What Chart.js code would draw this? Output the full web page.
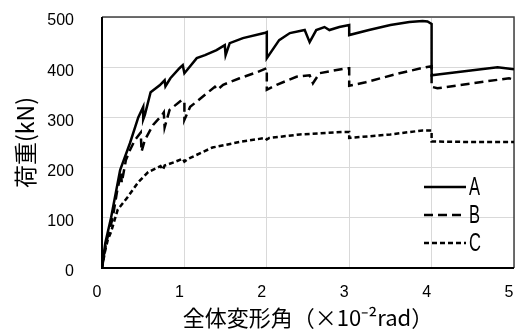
<!DOCTYPE html>
<html>
<head>
<meta charset="utf-8">
<script src="https://cdn.jsdelivr.net/npm/chart.js@4/dist/chart.umd.min.js"></script>
<style>
  html, body { margin: 0; padding: 0; background: #fff; }
  #wrap { width: 518px; height: 332px; }
</style>
</head>
<body>
<div id="wrap"><canvas id="chart" width="518" height="332"></canvas></div>
<script>
// ======================
// Data
// ======================
const seriesNames = ["A", "B", "C"];
const xTicks = [0, 1, 2, 3, 4, 5];
const yTicks = [0, 100, 200, 300, 400, 500];

// A: solid
const aX = [0, 0.04, 0.11, 0.22, 0.34, 0.44, 0.5, 0.5, 0.52, 0.59, 0.7, 0.76, 0.77, 0.83, 0.94, 0.98, 1.0, 1.03,
  1.15, 1.25, 1.39, 1.49, 1.5, 1.55, 1.71, 1.97, 2.0, 2.0, 2.15, 2.28, 2.46, 2.52, 2.6, 2.7, 2.76, 2.88, 3.0, 3.0,
  3.24, 3.5, 3.73, 3.89, 3.95, 4.0, 4.0, 4.1, 4.5, 4.8, 5.0];
const aY = [0, 50, 100, 195, 249, 300, 321, 296, 305, 350, 364, 374, 362, 378, 398, 404, 388, 394,
  418, 424, 434, 444, 424, 448, 458, 468, 470, 418, 454, 468, 474, 450, 474, 480, 474, 480, 484, 464,
  474, 484, 490, 492, 491, 486, 384, 386, 394, 400, 396];

// B: dashed
const bX = [0, 0.05, 0.13, 0.18, 0.23, 0.24, 0.29, 0.34, 0.4, 0.47, 0.48, 0.52, 0.62, 0.73, 0.75, 0.76, 0.82, 0.97,
  1.0, 1.0, 1.07, 1.25, 1.37, 1.4, 1.47, 1.67, 1.88, 2.0, 2.0, 2.12, 2.36, 2.52, 2.56, 2.64, 2.97, 3.0, 3.0,
  3.2, 3.61, 3.93, 4.0, 4.0, 4.07, 4.5, 4.94, 5.0];
const bY = [0, 50, 100, 150, 190, 170, 215, 235, 255, 270, 232, 255, 285, 305, 310, 280, 315, 335,
  331, 295, 321, 345, 361, 355, 365, 378, 390, 398, 355, 365, 381, 384, 368, 388, 398, 398, 363,
  370, 388, 400, 402, 361, 358, 368, 378, 375];

// C: short dashes
const cX = [0, 0.04, 0.07, 0.11, 0.19, 0.31, 0.44, 0.56, 0.71, 0.74, 0.76, 0.88, 0.98, 1.0, 1.04, 1.34, 1.67,
  1.98, 2.0, 2.03, 2.4, 2.92, 3.0, 3.0, 3.5, 3.89, 4.0, 4.0, 4.5, 5.0];
const cY = [0, 36, 56, 72, 116, 141, 171, 191, 203, 196, 204, 211, 218, 212, 217, 240, 251,
  259, 256, 259, 266, 271, 271, 259, 266, 274, 274, 252, 251, 251];

const dashes = [[], [9, 5], [5, 3]];

// ======================
// Helpers
// ======================
function toPoints(xs, ys) {
  return xs.map((x, i) => ({ x: x, y: ys[i] }));
}

const datasets = [[aX, aY], [bX, bY], [cX, cY]].map((s, i) => ({
  label: seriesNames[i],
  data: toPoints(s[0], s[1]),
  borderColor: "#000",
  borderWidth: 2.5,
  borderDash: dashes[i],
  pointRadius: 0,
  tension: 0,
  fill: false
}));

// Frame around the plot area
const framePlugin = {
  id: "frame",
  beforeDatasetsDraw(chart) {
    const { ctx, chartArea: a } = chart;
    ctx.save();
    ctx.lineWidth = 1.5;
    ctx.strokeStyle = "#404040";
    ctx.beginPath();
    ctx.moveTo(a.left, a.top);
    ctx.lineTo(a.right, a.top);
    ctx.lineTo(a.right, a.bottom);
    ctx.stroke();
    ctx.lineWidth = 2;
    ctx.strokeStyle = "#000";
    ctx.beginPath();
    ctx.moveTo(a.left, a.top);
    ctx.lineTo(a.left, a.bottom);
    ctx.lineTo(a.right, a.bottom);
    ctx.stroke();
    ctx.restore();
  }
};

// Legend inside the plot, bottom right (letters drawn tall and narrow)
const legendPlugin = {
  id: "innerLegend",
  afterDraw(chart) {
    const ctx = chart.ctx;
    const x0 = 424, x1 = 466;
    const ys = [187, 215, 243];
    chart.data.datasets.forEach((ds, i) => {
      ctx.save();
      ctx.strokeStyle = ds.borderColor;
      ctx.lineWidth = ds.borderWidth;
      ctx.setLineDash(ds.borderDash);
      ctx.beginPath();
      ctx.moveTo(x0, ys[i]);
      ctx.lineTo(x1, ys[i]);
      ctx.stroke();
      ctx.setLineDash([]);
      ctx.fillStyle = "#000";
      ctx.font = "25px 'Liberation Sans', sans-serif";
      ctx.textBaseline = "middle";
      ctx.translate(469, ys[i] + 1);
      ctx.scale(0.66, 1);
      ctx.fillText(ds.label, 0, 0);
      ctx.restore();
    });
  }
};

// ======================
// Chart
// ======================
const tickFont = { family: "'Liberation Sans', Arial, sans-serif", size: 16 };
const titleFont = { family: "'Noto Sans CJK JP', sans-serif", size: 22 };

new Chart(document.getElementById("chart"), {
  type: "line",
  data: { datasets: datasets },
  options: {
    responsive: false,
    animation: false,
    layout: { padding: { left: 0, right: 4, top: 17, bottom: 0 } },
    plugins: { legend: { display: false }, tooltip: { enabled: false } },
    scales: {
      x: {
        type: "linear",
        min: xTicks[0],
        max: xTicks[xTicks.length - 1],
        afterBuildTicks: s => { s.ticks = xTicks.map(v => ({ value: v })); },
        afterFit: s => { s.height = 64; s.paddingLeft = 0; s.paddingRight = 0; },
        grid: { color: "#d9d9d9", lineWidth: 1, drawTicks: false },
        border: { display: false },
        ticks: { color: "#000", font: tickFont, padding: 15, labelOffset: -5 },
        title: { display: true, text: "全体変形角（×10⁻²rad）", color: "#000", font: titleFont, padding: { top: 0, bottom: 1 } }
      },
      y: {
        min: yTicks[0],
        max: yTicks[yTicks.length - 1],
        afterBuildTicks: s => { s.ticks = yTicks.map(v => ({ value: v })); },
        afterFit: s => { s.width = 102; s.paddingTop = 0; s.paddingBottom = 0; },
        grid: { color: "#d9d9d9", lineWidth: 1, drawTicks: false },
        border: { display: false },
        ticks: { color: "#000", font: tickFont, padding: 28, labelOffset: 4 },
        title: { display: true, text: "荷重(kN)", color: "#000", font: { family: titleFont.family, size: 23 }, padding: { top: 11, bottom: 0 } }
      }
    }
  },
  plugins: [framePlugin, legendPlugin]
});
</script>
</body>
</html>
